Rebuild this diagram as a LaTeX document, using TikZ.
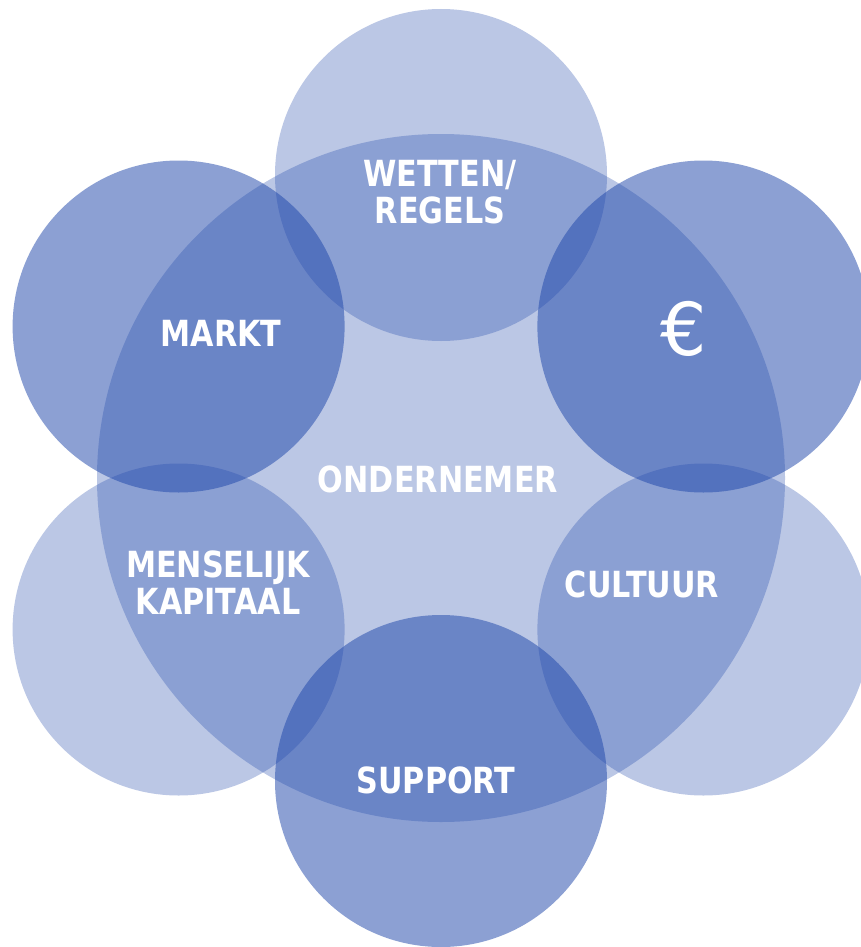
\documentclass[tikz,border=0pt]{standalone}
\usepackage{fontspec}
\newfontfamily\labfont{DejaVu Sans}[FakeStretch=0.84]
\newfontfamily\eurofont{DejaVu Sans}
\definecolor{cblue}{RGB}{30,70,170}
\tikzset{
  lightdisc/.style={fill=cblue, fill opacity=0.30},
  darkdisc/.style={fill=cblue, fill opacity=0.51},
  lab/.style={text=white, inner sep=0pt, anchor=north, align=center,
    font=\labfont\bfseries\fontsize{36pt}{37pt}\selectfont},
}
\begin{document}
\begin{tikzpicture}[x=1pt,y=-1pt]
\useasboundingbox (0,0) rectangle (861,947);
\fill[white] (0,0) rectangle (861,947);
% central disc
\fill[lightdisc] (441,478) circle[radius=344pt];
% outer discs
\fill[lightdisc] (441,175) circle[radius=166pt];
\fill[lightdisc] (178.6,629.5) circle[radius=166pt];
\fill[lightdisc] (703.4,629.5) circle[radius=166pt];
\fill[darkdisc] (178.6,326.5) circle[radius=166pt];
\fill[darkdisc] (703.4,326.5) circle[radius=166pt];
\fill[darkdisc] (441,781) circle[radius=166pt];
% labels
\node[lab] (wetten) at (440,160) {WETTEN/\\REGELS};
\node[lab] (markt) at (221,320) {MARKT};
\node[text=white, inner sep=0pt, font=\eurofont\fontsize{73pt}{73pt}\selectfont] (euro) at (684,329) {€};
\node[lab] (ondernemer) at (438,466) {ONDERNEMER};
\node[lab] (mens) at (218,551) {MENSELIJK\\KAPITAAL};
\node[lab] (cultuur) at (642,571) {CULTUUR};
\node[lab] (support) at (436,767) {SUPPORT};
\end{tikzpicture}
\end{document}
